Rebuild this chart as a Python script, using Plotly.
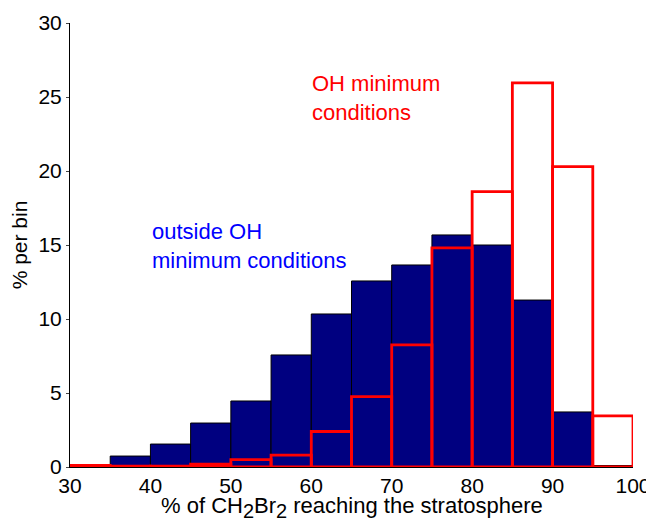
import plotly.graph_objects as go

bin_centers = [32.5, 37.5, 42.5, 47.5, 52.5, 57.5, 62.5, 67.5, 72.5, 77.5, 82.5, 87.5, 92.5, 97.5]
outside_oh = [0.15, 0.74, 1.55, 2.97, 4.46, 7.57, 10.34, 12.57, 13.65, 15.68, 15.0, 11.28, 3.72, 0.1]
oh_minimum = [0.1, 0.05, 0.05, 0.2, 0.5, 0.8, 2.4, 4.75, 8.25, 14.8, 18.6, 25.95, 20.3, 3.45]
x_ticks = [30, 40, 50, 60, 70, 80, 90, 100]
y_ticks = [0, 5, 10, 15, 20, 25, 30]

FONT = "Liberation Sans, Arial, sans-serif"

fig = go.Figure()
fig.add_trace(go.Bar(
    x=bin_centers, y=outside_oh, width=5,
    marker=dict(color="#000080", line=dict(color="black", width=1)),
    name="outside OH minimum conditions",
))
fig.add_trace(go.Bar(
    x=bin_centers, y=oh_minimum, width=5,
    marker=dict(color="rgba(0,0,0,0)", line=dict(color="#ff0000", width=2.8)),
    name="OH minimum conditions", cliponaxis=False,
))

sub = '<sub><span style="font-size:20px">2</span></sub>'

fig.update_layout(
    barmode="overlay",
    width=646, height=511,
    margin=dict(l=62, r=21, t=15, b=52, autoexpand=False),
    paper_bgcolor="white", plot_bgcolor="white",
    showlegend=False,
    font=dict(family=FONT, size=21, color="black"),
    xaxis=dict(
        range=[30, 100], tickvals=x_ticks, ticks="",
        showline=True, linecolor="black", linewidth=1, showgrid=False, zeroline=False,
        tickfont=dict(size=21),
    ),
    yaxis=dict(
        range=[0, 30], tickvals=y_ticks, ticks="outside", ticklen=3,
        showline=True, linecolor="black", linewidth=1, showgrid=False, zeroline=False,
        title=dict(text="% per bin", font=dict(size=21), standoff=5),
        tickfont=dict(size=21),
    ),
    annotations=[
        dict(x=0.5, y=-0.092, xref="paper", yref="paper",
             text="% of CH" + sub + "Br" + sub + " reaching the stratosphere",
             showarrow=False, xanchor="center", yanchor="middle",
             font=dict(family=FONT, size=22, color="black")),
        dict(x=59.8, y=24.93, xref="x", yref="y", text="OH minimum<br>conditions",
             showarrow=False, xanchor="left", yanchor="middle", align="left",
             font=dict(family=FONT, size=22, color="#ff0000")),
        dict(x=39.95, y=14.93, xref="x", yref="y", text="outside OH<br>minimum conditions",
             showarrow=False, xanchor="left", yanchor="middle", align="left",
             font=dict(family=FONT, size=22, color="#0000ff")),
    ],
)

fig.write_html("out.html")
